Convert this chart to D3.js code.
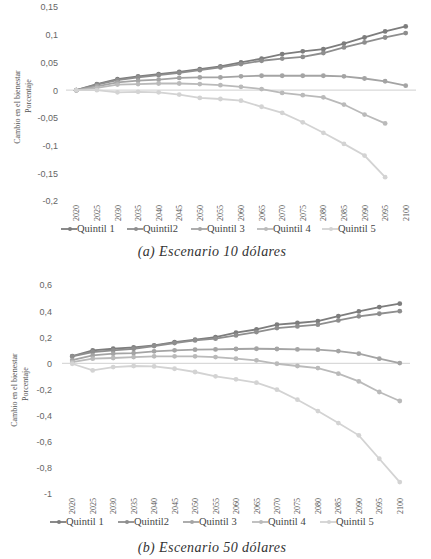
<!DOCTYPE html>
<html>
<head>
<meta charset="utf-8">
<script src="https://d3js.org/d3.v7.min.js"></script>
<style>
body { margin:0; background:#fff; }
.tick text { font-family: "Liberation Sans", Arial, sans-serif; }
.yr text { font-family: "Liberation Serif", "Times New Roman", serif; }
.leg { font-family: "Liberation Serif", "Times New Roman", serif; fill:#444; }
.ylab { font-family: "Liberation Serif", "Times New Roman", serif; fill:#555; font-size:8px; }
.cap { font-family: "Liberation Serif", "Times New Roman", serif; font-style:italic; fill:#333; font-size:14px; letter-spacing:0.4px; }
</style>
</head>
<body>
<script>
var years = ["2020","2025","2030","2035","2040","2045","2050","2055","2060","2065","2070","2075","2080","2085","2090","2095","2100"];
var names = ["Quintil 1","Quintil2","Quintil 3","Quintil 4","Quintil 5"];
var colors = ["#7d7d7d","#8e8e8e","#a4a4a4","#bababa","#d3d3d3"];

// (a) escenario 10 dolares
var q1a = [0, 0.011, 0.020, 0.025, 0.029, 0.033, 0.038, 0.043, 0.050, 0.057, 0.065, 0.070, 0.074, 0.084, 0.095, 0.106, 0.115];
var q2a = [0, 0.010, 0.018, 0.023, 0.027, 0.031, 0.036, 0.041, 0.047, 0.053, 0.057, 0.060, 0.067, 0.077, 0.086, 0.095, 0.103];
var q3a = [0, 0.007, 0.014, 0.017, 0.019, 0.022, 0.023, 0.023, 0.025, 0.026, 0.026, 0.026, 0.026, 0.025, 0.021, 0.016, 0.008];
var q4a = [0, 0.004, 0.010, 0.011, 0.012, 0.012, 0.011, 0.009, 0.006, 0.002, -0.005, -0.009, -0.013, -0.026, -0.044, -0.060, null];
var q5a = [0, 0.000, -0.004, -0.003, -0.004, -0.008, -0.014, -0.016, -0.019, -0.030, -0.041, -0.058, -0.077, -0.097, -0.118, -0.157, null];
var ticksA = [0.15, 0.1, 0.05, 0, -0.05, -0.1, -0.15, -0.2];
var tickLabelsA = ["0,15","0,1","0,05","0","-0,05","-0,1","-0,15","-0,2"];

// (b) escenario 50 dolares
var q1b = [0.056, 0.100, 0.112, 0.122, 0.138, 0.163, 0.181, 0.201, 0.235, 0.260, 0.296, 0.309, 0.324, 0.362, 0.398, 0.431, 0.457];
var q2b = [0.053, 0.087, 0.100, 0.112, 0.133, 0.156, 0.176, 0.189, 0.214, 0.240, 0.270, 0.283, 0.296, 0.329, 0.360, 0.380, 0.400];
var q3b = [0.025, 0.061, 0.074, 0.079, 0.092, 0.100, 0.105, 0.107, 0.110, 0.112, 0.110, 0.107, 0.105, 0.094, 0.074, 0.036, 0.002];
var q4b = [0.010, 0.036, 0.041, 0.048, 0.054, 0.054, 0.054, 0.048, 0.036, 0.023, -0.003, -0.020, -0.036, -0.079, -0.138, -0.219, -0.288];
var q5b = [-0.003, -0.054, -0.028, -0.020, -0.023, -0.041, -0.066, -0.099, -0.122, -0.148, -0.201, -0.278, -0.365, -0.457, -0.551, -0.730, -0.909];
var ticksB = [0.6, 0.4, 0.2, 0, -0.2, -0.4, -0.6, -0.8, -1];
var tickLabelsB = ["0,6","0,4","0,2","0","-0,2","-0,4","-0,6","-0,8","-1"];

var svg = d3.select("body").append("svg")
    .attr("width", 431)
    .attr("height", 559);

function drawChart(c) {
    var x = d3.scalePoint().domain(years).range([c.left, c.right]).padding(0.5);
    var y = d3.scaleLinear().domain([c.ticks[c.ticks.length-1], c.ticks[0]]).range([c.bottom, c.top]);

    // y axis labels
    var ya = svg.append("g")
        .attr("transform", "translate(" + c.tickX + ",0)")
        .call(d3.axisLeft(y).tickValues(c.ticks).tickSize(0).tickPadding(0)
            .tickFormat(function(d, i) { return c.labels[i]; }));
    ya.select(".domain").remove();
    ya.selectAll("text").attr("fill", "#666").attr("font-size", "9px");

    // zero line
    svg.append("line")
        .attr("x1", c.left).attr("x2", c.right)
        .attr("y1", y(0)).attr("y2", y(0))
        .attr("stroke", "#d9d9d9").attr("stroke-width", 1.2);

    // years, rotated
    var xa = svg.append("g")
        .attr("class", "yr")
        .attr("transform", "translate(0," + c.yearTop + ")")
        .call(d3.axisBottom(x).tickSize(0).tickPadding(0));
    xa.select(".domain").remove();
    xa.selectAll("text")
        .attr("transform", "rotate(-90)")
        .attr("text-anchor", "end")
        .attr("x", 0).attr("y", 0).attr("dy", "0.32em")
        .attr("fill", "#555").attr("font-size", "8px");

    var line = d3.line()
        .defined(function(d) { return d != null; })
        .x(function(d, i) { return x(years[i]); })
        .y(function(d) { return y(d); });

    c.series.forEach(function(s, k) {
        svg.append("path")
            .datum(s)
            .attr("fill", "none")
            .attr("stroke", colors[k])
            .attr("stroke-width", 1.8)
            .attr("d", line);
        svg.selectAll(null)
            .data(s.map(function(v, i) { return {v: v, yr: years[i]}; }).filter(function(d) { return d.v != null; }))
            .enter().append("circle")
            .attr("cx", function(d) { return x(d.yr); })
            .attr("cy", function(d) { return y(d.v); })
            .attr("r", 2.4)
            .attr("fill", colors[k]);
    });

    // y title
    svg.append("text").attr("class", "ylab")
        .attr("transform", "translate(" + c.ylabX[0] + "," + c.ylabY[0] + ") rotate(-90)")
        .attr("text-anchor", "middle").attr("dy", "0.35em")
        .text("Cambio en el bienestar");
    svg.append("text").attr("class", "ylab")
        .attr("transform", "translate(" + c.ylabX[1] + "," + c.ylabY[1] + ") rotate(-90)")
        .attr("text-anchor", "middle").attr("dy", "0.35em")
        .text("Porcentaje");

    // legend
    names.forEach(function(n, k) {
        var lx = c.legX[k];
        svg.append("line")
            .attr("x1", lx).attr("x2", lx + 16)
            .attr("y1", c.legY).attr("y2", c.legY)
            .attr("stroke", colors[k]).attr("stroke-width", 1.8);
        svg.append("circle")
            .attr("cx", lx + 9).attr("cy", c.legY).attr("r", 2)
            .attr("fill", colors[k]);
        svg.append("text").attr("class", "leg")
            .attr("x", lx + 16).attr("y", c.legY).attr("dy", "0.33em")
            .attr("font-size", "10.5px")
            .text(n);
    });

    svg.append("text").attr("class", "cap")
        .attr("x", 212).attr("y", c.capY)
        .attr("text-anchor", "middle")
        .text(c.caption);
}

drawChart({
    left: 66, right: 416, top: 7, bottom: 201, tickX: 58,
    ticks: ticksA, labels: tickLabelsA,
    series: [q1a, q2a, q3a, q4a, q5a],
    yearTop: 205, legY: 229, legX: [61, 127, 191, 257, 322],
    ylabX: [17, 28], ylabY: [107, 96],
    capY: 256, caption: "(a) Escenario 10 dólares"
});

drawChart({
    left: 62, right: 410, top: 285, bottom: 494, tickX: 52,
    ticks: ticksB, labels: tickLabelsB,
    series: [q1b, q2b, q3b, q4b, q5b],
    yearTop: 498, legY: 522, legX: [50, 118, 183, 252, 320],
    ylabX: [14, 25], ylabY: [390, 384],
    capY: 552, caption: "(b) Escenario 50 dólares"
});
</script>
</body>
</html>
